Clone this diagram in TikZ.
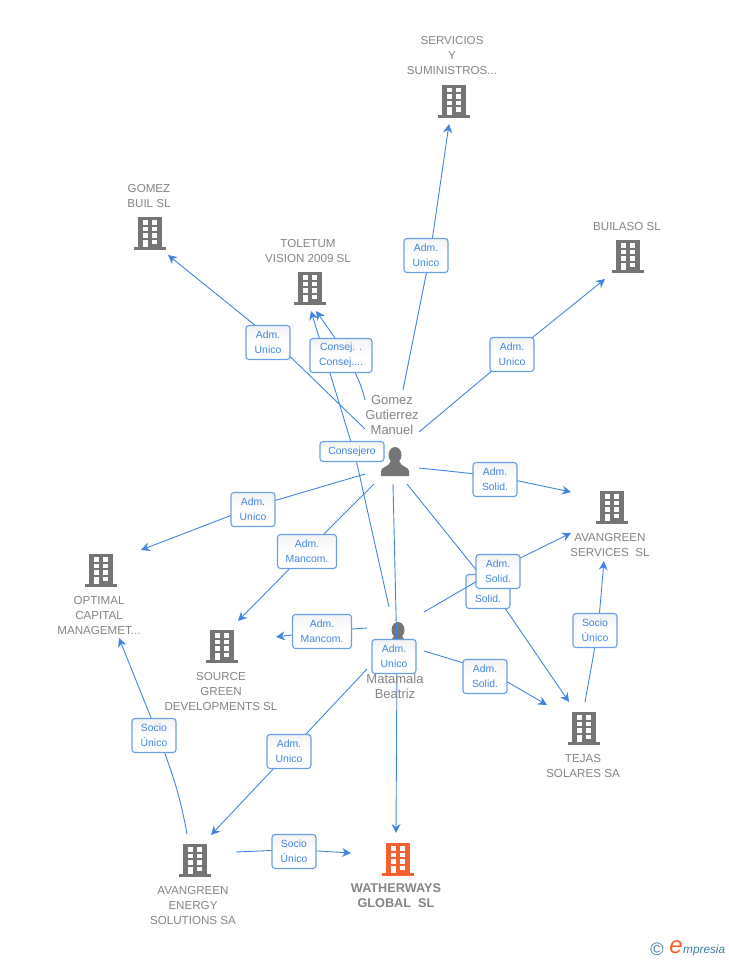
\documentclass[tikz,border=0pt]{standalone}
\usepackage{fontspec}
\setmainfont{Liberation Sans}
\usepackage{xcolor}
\usetikzlibrary{arrows.meta}
\definecolor{linkblue}{HTML}{4285E0}
\definecolor{boxblue}{HTML}{6A9FE6}
\definecolor{icongray}{HTML}{757575}
\definecolor{textgray}{HTML}{848484}
\definecolor{mainorange}{HTML}{F4602F}
\definecolor{logoteal}{HTML}{3F7F9F}
\tikzset{
  conn/.style={draw=linkblue, line width=0.9pt, -{Stealth[length=9pt, width=9pt, inset=3pt]}},
  rel/.style={draw=boxblue, line width=1.1pt, rounded corners=3pt, top color=black!5, bottom color=white, middle color=white,
    text=linkblue, font=\fontsize{10.4}{15}\selectfont, align=center, minimum height=34pt, minimum width=44pt, inner sep=0pt, yshift=-0.5pt},
  firm/.style={text=textgray, font=\fontsize{11.6}{15}\selectfont, align=center, inner sep=0pt},
  who/.style={text=textgray, font=\fontsize{13}{15}\selectfont, align=center, inner sep=0pt},
  pics/building/.style={code={
    \fill[#1] (-12,-16) rectangle (12,15);
    \fill[#1] (-16,14) rectangle (16,17);
    \foreach \wy in {-13,-6.5,0,6.5} {
      \fill[white] (-7.5,\wy) rectangle (-2.5,\wy+4.5);
      \fill[white] (2,\wy) rectangle (7,\wy+4.5);
    }
    \fill[white] (-7.5,6.5) rectangle (-2.5,14);
  }},
  pics/person/.style={code={
    \fill[icongray] (0,0) ellipse (6.5 and 8);
    \fill[icongray] (-14,21) -- (-14,16) .. controls (-14,12) and (-6,12) .. (-4,6) -- (4,6)
      .. controls (6,12) and (14,12) .. (14,16) -- (14,21) -- cycle;
  }}
}
\begin{document}
\begin{tikzpicture}[x=1pt, y=-1pt]
  \useasboundingbox (0,0) rectangle (728,960);

  \pic at (454,101) {building=icongray};
  \pic at (150,233) {building=icongray};
  \pic at (310,288) {building=icongray};
  \pic at (628,256) {building=icongray};
  \pic at (612,507) {building=icongray};
  \pic at (101,570) {building=icongray};
  \pic at (222,646) {building=icongray};
  \pic at (584,728) {building=icongray};
  \pic at (195,860) {building=icongray};
  \pic at (398,859) {building=mainorange};
  \pic at (395,455) {person};
  \pic at (398,630) {person};

  \coordinate (gomezTop) at (403,390);
  \coordinate (gomezBuil) at (365,429);
  \coordinate (gomezTol) at (365,400);
  \coordinate (gomezRight) at (419,432);
  \coordinate (gomezServ) at (419,468);
  \coordinate (gomezTejas) at (407,484);
  \coordinate (gomezSource) at (374,484);
  \coordinate (gomezOpt) at (365,474);
  \coordinate (gomezDown) at (393,484);
  \coordinate (mataTol) at (389,607);
  \coordinate (mataServ) at (424,612);
  \coordinate (mataSource) at (367,628);
  \coordinate (mataTejas) at (424,651);
  \coordinate (mataEnergy) at (367,669);
  \coordinate (energyUp) at (187,834);
  \coordinate (energyMain) at (236,852);
  \coordinate (tejasUp) at (585,702);
  \coordinate (toServicios) at (449,124);
  \coordinate (toBuil) at (168,255);
  \coordinate (toTolA) at (316,311);
  \coordinate (toTolB) at (311,311);
  \coordinate (toBuilaso) at (605,279);
  \coordinate (toServA) at (571,492);
  \coordinate (toServB) at (571,533);
  \coordinate (toServC) at (604,561);
  \coordinate (toTejasA) at (569,702);
  \coordinate (toTejasB) at (547,705);
  \coordinate (toSourceA) at (238,621);
  \coordinate (toSourceB) at (276,637);
  \coordinate (toOptA) at (141,550);
  \coordinate (toOptB) at (119,638);
  \coordinate (toEnergy) at (211,835);
  \coordinate (toMainA) at (396,833);
  \coordinate (toMainB) at (351,853);

  \draw[conn] (gomezTop) -- (430,255) node[rel, xshift=-4pt] (lblServicios) {Adm.\\Unico} -- (toServicios);
  \draw[conn] (gomezBuil) -- (272,339) node[rel, xshift=-4pt, yshift=-3pt] (lblBuil) {Adm.\\Unico} -- (toBuil);
  \draw[conn] (mataTol) -- (355,455) node[rel, minimum width=64pt, minimum height=20pt, xshift=-3pt, yshift=4pt] (lblConsejero) {Consejero} -- (toTolB);
  \draw[conn] (gomezTol) .. controls (361,385) .. (347,355) node[rel, minimum width=62pt, xshift=-6pt] (lblConsej) {Consej. .\\Consej....} -- (toTolA);
  \draw[conn] (gomezRight) -- (512,354) node[rel] (lblBuilaso) {Adm.\\Unico} -- (toBuilaso);
  \draw[conn] (gomezServ) -- (495,476) node[rel, yshift=-3pt] (lblServA) {Adm.\\Solid.} -- (toServA);
  \draw[conn] (gomezTejas) -- (494,592) node[rel, xshift=-6pt, yshift=1pt] (lblTejasA) {Adm.\\Solid.} -- (toTejasA);
  \draw[conn] (mataServ) -- (498,569) node[rel, yshift=-2pt] (lblServB) {Adm.\\Solid.} -- (toServB);
  \draw[conn] (gomezSource) -- (307,551) node[rel, minimum width=59pt] (lblSourceA) {Adm.\\Mancom.} -- (toSourceA);
  \draw[conn] (gomezOpt) -- (253,507) node[rel, yshift=-2pt] (lblOptA) {Adm.\\Unico} -- (toOptA);
  \draw[conn] (gomezDown) -- (397,656) node[rel, xshift=-3pt] (lblMainA) {Adm.\\Unico} -- (toMainA);
  \draw[conn] (mataSource) -- (322,631) node[rel, minimum width=59pt] (lblSourceB) {Adm.\\Mancom.} -- (toSourceB);
  \draw[conn] (mataTejas) -- (487,670) node[rel, xshift=-2pt, yshift=-6pt] (lblTejasB) {Adm.\\Solid.} -- (toTejasB);
  \draw[conn] (mataEnergy) -- (291,750) node[rel, xshift=-2pt, yshift=-1pt] (lblEnergy) {Adm.\\Unico} -- (toEnergy);
  \draw[conn] (energyUp) .. controls (180,795) and (172,772) .. (158,735) node[rel, xshift=-4pt] (lblOptB) {Socio\\Único} -- (toOptB);
  \draw[conn] (tejasUp) -- (598,630) node[rel, xshift=-3pt] (lblServC) {Socio\\Único} -- (toServC);
  \draw[conn] (energyMain) -- (294,849.5) node[rel, yshift=-1.5pt] (lblMainB) {Socio\\Único} -- (toMainB);

  \node[firm] (servicios) at (452,56) {SERVICIOS\\Y\\SUMINISTROS...};
  \node[firm] (gomezbuil) at (149,196) {GOMEZ\\BUIL SL};
  \node[firm] (toletum) at (308,251) {TOLETUM\\VISION 2009 SL};
  \node[firm] (builaso) at (627,227) {BUILASO SL};
  \node[firm] (avaservices) at (610,545) {AVANGREEN\\SERVICES\ \ SL};
  \node[firm] (optimal) at (99,615) {OPTIMAL\\CAPITAL\\MANAGEMET...};
  \node[firm] (source) at (221,691) {SOURCE\\GREEN\\DEVELOPMENTS SL};
  \node[firm] (tejas) at (583,766) {TEJAS\\SOLARES SA};
  \node[firm] (avaenergy) at (193,905) {AVANGREEN\\ENERGY\\SOLUTIONS SA};
  \node[firm, font=\fontsize{12.7}{15}\selectfont\bfseries] (watherways) at (396,896) {WATHERWAYS\\GLOBAL\ \ SL};
  \node[who] (gomez) at (392,415) {Gomez\\Gutierrez\\Manuel};
  \node[who] (matamala) at (395,686.5) {Matamala\\Beatriz};

  \node[text=logoteal, font=\fontsize{18}{18}\selectfont, inner sep=0pt] (logoC) at (657,949) {©};
  \node[text=mainorange, font=\fontsize{24}{24}\selectfont\itshape, inner sep=0pt] (logoE) at (676,947) {e};
  \node[text=logoteal, font=\fontsize{11.8}{15}\selectfont\itshape, inner sep=0pt, anchor=west] (logoT) at (683,950) {mpresia};
\end{tikzpicture}
\end{document}
